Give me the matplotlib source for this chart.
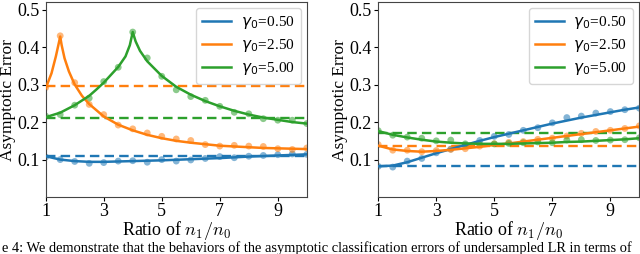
import matplotlib
matplotlib.use("Agg")
import matplotlib.pyplot as plt
from matplotlib.font_manager import FontProperties

plt.rcParams["font.family"] = ["Liberation Serif", "DejaVu Serif"]
plt.rcParams["mathtext.fontset"] = "cm"
# custom math set, used only by the legend (sans gamma, serif numbers)
plt.rcParams["mathtext.rm"] = "Liberation Serif"
plt.rcParams["mathtext.it"] = "DejaVu Sans:italic"
plt.rcParams["mathtext.sf"] = "DejaVu Sans"

# ---- data ---------------------------------------------------------------
gammas = ["0.50", "2.50", "5.00"]
colors = ["#1f77b4", "#ff7f0e", "#2ca02c"]

# simulation points (dots), every 0.5 from 1 to 10
x_dots = [1.0, 1.5, 2.0, 2.5, 3.0, 3.5, 4.0, 4.5, 5.0, 5.5,
          6.0, 6.5, 7.0, 7.5, 8.0, 8.5, 9.0, 9.5, 10.0]

# left panel
left_blue_dots = [0.107, 0.100, 0.095, 0.090, 0.092, 0.096, 0.097, 0.093, 0.100, 0.096,
                  0.099, 0.103, 0.108, 0.105, 0.109, 0.111, 0.113, 0.115, 0.114]
left_orange_dots = [0.292, 0.430, 0.305, 0.247, 0.220, 0.192, 0.182, 0.171, 0.162, 0.155,
                    0.151, 0.140, 0.136, 0.138, 0.136, 0.135, 0.129, 0.127, 0.131]
left_green_dots = [0.216, 0.220, 0.245, 0.264, 0.308, 0.346, 0.440, 0.371, 0.322, 0.286,
                   0.268, 0.258, 0.242, 0.226, 0.222, 0.209, 0.205, 0.205, 0.196]

x_blue_line = [1.0, 1.5, 2.0, 2.5, 3.0, 3.5, 4.0, 5.0, 6.0, 7.0, 8.0, 9.0, 10.0]
left_blue_line = [0.109, 0.100, 0.096, 0.094, 0.094, 0.095, 0.096, 0.098, 0.101, 0.104,
                  0.108, 0.111, 0.114]

x_orange_line = [1.0, 1.2, 1.35, 1.45, 1.5, 1.55, 1.65, 1.8, 2.0, 2.25, 2.5, 3.0, 3.5,
                 4.0, 4.5, 5.0, 5.5, 6.0, 6.5, 7.0, 7.5, 8.0, 8.5, 9.0, 9.5, 10.0]
left_orange_line = [0.290, 0.330, 0.375, 0.410, 0.428, 0.405, 0.370, 0.335, 0.300, 0.270,
                    0.248, 0.215, 0.193, 0.178, 0.166, 0.157, 0.150, 0.145, 0.141, 0.137,
                    0.135, 0.133, 0.131, 0.130, 0.129, 0.128]

x_green_line = [1.0, 1.5, 2.0, 2.5, 2.75, 3.0, 3.5, 3.75, 3.9, 4.0, 4.1, 4.25, 4.5, 5.0,
                5.5, 6.0, 6.5, 7.0, 7.5, 8.0, 8.5, 9.0, 9.5, 10.0]
left_green_line = [0.213, 0.225, 0.245, 0.270, 0.287, 0.305, 0.347, 0.375, 0.405, 0.440,
                   0.415, 0.390, 0.362, 0.323, 0.294, 0.273, 0.256, 0.242, 0.230, 0.220,
                   0.212, 0.206, 0.200, 0.196]

left_dashed = [0.109, 0.295, 0.212]

# right panel
right_blue_dots = [0.082, 0.080, 0.096, 0.103, 0.118, 0.128, 0.139, 0.151, 0.162, 0.167,
                   0.178, 0.185, 0.198, 0.212, 0.216, 0.224, 0.228, 0.233, 0.237]
right_orange_dots = [0.140, 0.125, 0.125, 0.121, 0.124, 0.127, 0.129, 0.136, 0.142, 0.146,
                     0.148, 0.154, 0.157, 0.163, 0.170, 0.175, 0.178, 0.183, 0.190]
right_green_dots = [0.177, 0.165, 0.160, 0.157, 0.150, 0.152, 0.142, 0.140, 0.142, 0.143,
                    0.145, 0.147, 0.145, 0.152, 0.153, 0.151, 0.152, 0.153, 0.158]

x_right_line = [1.0, 1.5, 2.0, 2.5, 3.0, 3.5, 4.0, 4.5, 5.0, 5.5,
                6.0, 6.5, 7.0, 7.5, 8.0, 8.5, 9.0, 9.5, 10.0]
right_blue_line = [0.082, 0.084, 0.093, 0.105, 0.117, 0.128, 0.139, 0.150, 0.160, 0.169,
                   0.178, 0.187, 0.196, 0.204, 0.212, 0.219, 0.226, 0.233, 0.239]
right_orange_line = [0.137, 0.127, 0.123, 0.121, 0.123, 0.126, 0.130, 0.134, 0.139, 0.143,
                     0.148, 0.153, 0.158, 0.163, 0.168, 0.173, 0.178, 0.183, 0.188]
right_green_line = [0.176, 0.166, 0.159, 0.153, 0.148, 0.145, 0.143, 0.142, 0.142, 0.142,
                    0.143, 0.144, 0.145, 0.147, 0.148, 0.150, 0.152, 0.154, 0.157]

right_dashed = [0.082, 0.135, 0.172]

caption = ("e 4: We demonstrate that the behaviors of the asymptotic "
           "classification errors of undersampled LR in terms of")

panels = [
    dict(lines=[(x_blue_line, left_blue_line), (x_orange_line, left_orange_line),
                (x_green_line, left_green_line)],
         dots=[left_blue_dots, left_orange_dots, left_green_dots],
         dashed=left_dashed),
    dict(lines=[(x_right_line, right_blue_line), (x_right_line, right_orange_line),
                (x_right_line, right_green_line)],
         dots=[right_blue_dots, right_orange_dots, right_green_dots],
         dashed=right_dashed),
]

fig = plt.figure(figsize=(6.4, 2.54), dpi=100)
rects = [[0.0714, 0.224, 0.408, 0.768], [0.591, 0.224, 0.408, 0.768]]

legend_prop = FontProperties(family="Liberation Serif", size=11,
                             math_fontfamily="custom")

for rect, p in zip(rects, panels):
    ax = fig.add_axes(rect)
    for i, c in enumerate(colors):
        lx, ly = p["lines"][i]
        label = r"$\gamma_\mathsf{0}\!=\!\mathrm{" + gammas[i] + "}$"
        ax.plot(lx, ly, color=c, lw=1.8, label=label, zorder=3)
        ax.scatter(x_dots, p["dots"][i], color=c, s=24, alpha=0.55, zorder=2,
                   edgecolors="none")
        ax.axhline(p["dashed"][i], color=c, lw=1.7, ls=(0, (4, 2.2)), zorder=2)
    ax.set_xlim(1, 10)
    ax.set_ylim(0.0, 0.52)
    ax.set_xticks([1, 3, 5, 7, 9])
    ax.set_yticks([0.1, 0.2, 0.3, 0.4, 0.5])
    ax.set_yticklabels(["0.1", "0.2", "0.3", "0.4", "0.5"])
    ax.tick_params(labelsize=13, length=3, width=0.8, pad=1.5)
    ax.set_xlabel(r"Ratio of $n_1/n_0$", fontsize=13, labelpad=-1)
    ax.set_ylabel("Asymptotic Error", fontsize=12.5, labelpad=1)
    for s in ax.spines.values():
        s.set_color("#444444")
        s.set_linewidth(0.8)
    ax.legend(loc="upper right", prop=legend_prop, handlelength=1.9,
              handletextpad=0.6, borderaxespad=0.4, labelspacing=0.4,
              fancybox=True)

fig.text(0.003, 0.008, caption, fontsize=10.4, ha="left", va="baseline")

fig.savefig("out.png", dpi=100)
